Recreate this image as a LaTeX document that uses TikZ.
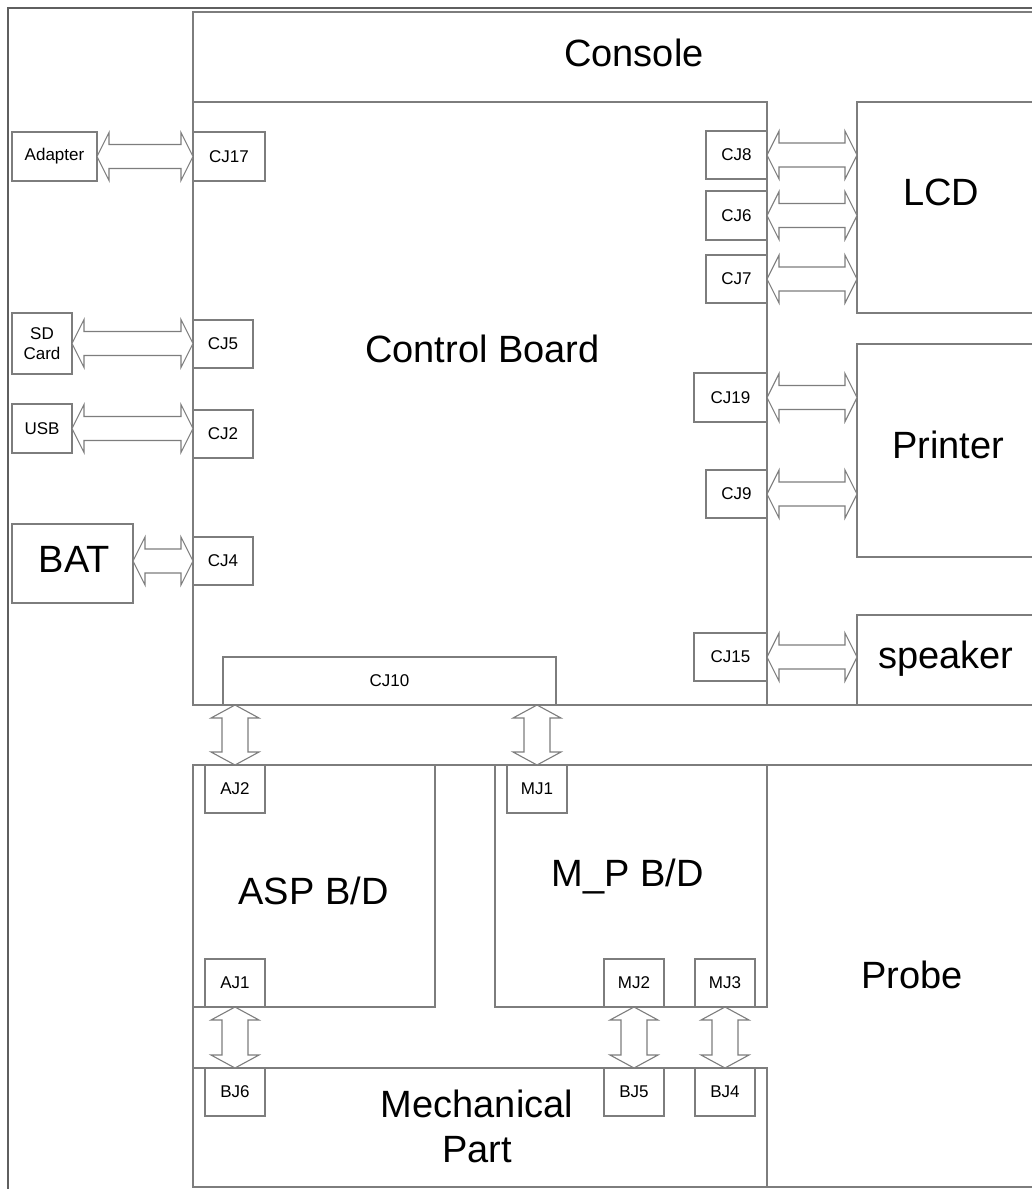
\documentclass[tikz,border=0pt]{standalone}
\usepackage{fontspec}
\setmainfont{Liberation Sans}
\usetikzlibrary{calc}
\definecolor{ln}{RGB}{125,125,125}
\definecolor{framecol}{RGB}{95,95,95}
\tikzset{
  box/.style={draw=ln, line width=1.2pt, inner sep=0pt, outer sep=0pt, anchor=north west,
    font=\fontsize{17}{20}\selectfont, align=center},
  big/.style={font=\fontsize{38}{45}\selectfont, inner sep=0pt, anchor=base},
  harrow/.style={draw=ln, fill=white, line width=1.1pt, line join=miter,
    to path={let \p1=(\tikztostart), \p2=(\tikztotarget) in
      (\x1,\y1) -- (\x1+12pt,\y1+24pt) -- (\x1+12pt,\y1+12pt) -- (\x2-12pt,\y1+12pt) --
      (\x2-12pt,\y1+24pt) -- (\x2,\y1) -- (\x2-12pt,\y1-24pt) -- (\x2-12pt,\y1-12pt) --
      (\x1+12pt,\y1-12pt) -- (\x1+12pt,\y1-24pt) -- cycle}},
  varrow/.style={draw=ln, fill=white, line width=1.1pt, line join=miter,
    to path={let \p1=(\tikztostart), \p2=(\tikztotarget) in
      (\x1,\y1) -- (\x1+24pt,\y1-13pt) -- (\x1+13pt,\y1-13pt) -- (\x1+13pt,\y2+13pt) --
      (\x1+24pt,\y2+13pt) -- (\x1,\y2) -- (\x1-24pt,\y2+13pt) -- (\x1-13pt,\y2+13pt) --
      (\x1-13pt,\y1-13pt) -- (\x1-24pt,\y1-13pt) -- cycle}},
}
\newcommand{\bx}[6]{\node[box, minimum width=#4pt-#2pt, minimum height=#5pt-#3pt] (#1) at (#2,#3) {#6};}
\begin{document}
\begin{tikzpicture}[x=1pt,y=-1pt]
\useasboundingbox (0,0) rectangle (1032,1189);
% outer frame
\draw[framecol, line width=1.4pt] (8,1195) -- (8,8) -- (1040,8);
% console
\bx{console}{193}{12}{1045}{705}{}
\node[big] (consolelbl) at (634,66) {Console};
\bx{cb}{193}{102}{767}{705}{}
\node[big] (cblbl) at (482.5,362) {Control Board};
% left side
\bx{adapter}{12}{132}{97}{181}{Adapter}
\bx{cj17}{193}{132}{265}{181}{CJ17}
\bx{sd}{12}{313}{72}{374}{SD\\Card}
\bx{cj5}{193}{320}{253}{368}{CJ5}
\bx{usb}{12}{404}{72}{453}{USB}
\bx{cj2}{193}{410}{253}{458}{CJ2}
\bx{bat}{12}{524}{133}{603}{}
\node[big] (batlbl) at (74.5,572) {BAT};
\bx{cj4}{193}{537}{253}{585}{CJ4}
% right side
\bx{cj8}{706}{131}{767}{179}{CJ8}
\bx{cj6}{706}{191}{767}{240}{CJ6}
\bx{cj7}{706}{255}{767}{303}{CJ7}
\bx{lcd}{857}{102}{1045}{313}{}
\node[big] (lcdlbl) at (941,205) {LCD};
\bx{cj19}{694}{373}{767}{422}{CJ19}
\bx{cj9}{706}{470}{767}{518}{CJ9}
\bx{printer}{857}{344}{1045}{557}{}
\node[big] (printerlbl) at (948,458) {Printer};
\bx{cj15}{694}{633}{767}{681}{CJ15}
\bx{speaker}{857}{615}{1045}{705}{}
\node[big] (speakerlbl) at (946,668) {speaker};
\bx{cj10}{223}{657}{556}{705}{CJ10}
% probe
\bx{probe}{193}{765}{1045}{1187}{}
\node[big] (probelbl) at (912,988) {Probe};
\bx{asp}{193}{765}{435}{1007}{}
\node[big] (asplbl) at (313.5,904) {ASP B/D};
\bx{mp}{495}{765}{767}{1007}{}
\node[big] (mplbl) at (628,886) {M\_P B/D};
\bx{aj2}{205}{765}{265}{813}{AJ2}
\bx{mj1}{507}{765}{567}{813}{MJ1}
\bx{aj1}{205}{959}{265}{1007}{AJ1}
\bx{mj2}{604}{959}{664}{1007}{MJ2}
\bx{mj3}{695}{959}{755}{1007}{MJ3}
\bx{mech}{193}{1068}{767}{1187}{}
\node[big] (mechlbl1) at (477,1117) {Mechanical};
\node[big] (mechlbl2) at (477,1162) {Part};
\bx{bj6}{205}{1068}{265}{1116}{BJ6}
\bx{bj5}{604}{1068}{664}{1116}{BJ5}
\bx{bj4}{695}{1068}{755}{1116}{BJ4}
% horizontal connectors
\draw[harrow] (adapter.east) to (cj17.west);
\draw[harrow] (sd.east) to (sd.east -| cj5.west);
\draw[harrow] (usb.east) to (usb.east -| cj2.west);
\draw[harrow] (bat.east |- cj4.west) to (cj4.west);
\draw[harrow] (cj8.east) to (cj8.east -| lcd.west);
\draw[harrow] (cj6.east) to (cj6.east -| lcd.west);
\draw[harrow] (cj7.east) to (cj7.east -| lcd.west);
\draw[harrow] (cj19.east) to (cj19.east -| printer.west);
\draw[harrow] (cj9.east) to (cj9.east -| printer.west);
\draw[harrow] (cj15.east) to (cj15.east -| speaker.west);
% vertical connectors
\draw[varrow] (aj2.north |- cj10.south) to (aj2.north);
\draw[varrow] (mj1.north |- cj10.south) to (mj1.north);
\draw[varrow] (aj1.south) to (bj6.north);
\draw[varrow] (mj2.south) to (bj5.north);
\draw[varrow] (mj3.south) to (bj4.north);
\end{tikzpicture}
\end{document}
